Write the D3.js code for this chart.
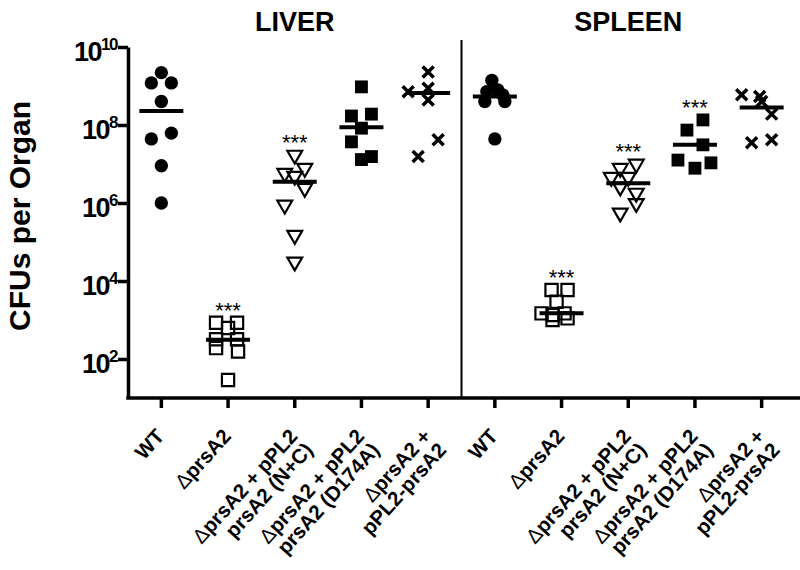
<!DOCTYPE html>
<html>
<head>
<meta charset="utf-8">
<script src="https://cdn.jsdelivr.net/npm/d3@7"></script>
<style>
  body { margin: 0; background: #fff; }
  svg { font-family: Arial, "Liberation Sans", sans-serif; display: block; }
</style>
</head>
<body>
<svg id="chart"></svg>
<script>
// groups and labels
var organs = ["LIVER", "SPLEEN"];
var strains = ["WT", "dprsA2", "NC", "D174A", "compl"];
var strainLabels = [
    ["WT"],
    ["\u0394prsA2"],
    ["\u0394prsA2 + pPL2", "prsA2 (N+C)"],
    ["\u0394prsA2 + pPL2", "prsA2 (D174A)"],
    ["\u0394prsA2 +", "pPL2-prsA2"]
];
var strainMarks = ["circle", "openSquare", "openTriangle", "square", "cross"];

// CFUs per organ
var liverCFU = [
    [2.2e9, 1.2e9, 1.2e9, 4.0e8, 4.4e7, 6.2e7, 9.0e6, 1.0e6],
    [850, 850, 620, 320, 320, 190, 155, 29],
    [1.7e7, 5.8e6, 7.8e6, 4.9e6, 2.4e6, 8.9e5, 1.5e5, 3.1e4],
    [9.5e8, 1.7e8, 1.9e8, 8.3e7, 3.7e7, 1.3e7, 1.55e7],
    [2.3e9, 8.7e8, 4.4e8, 7.1e8, 4.2e7, 1.55e7]
];
var liverJitter = [
    [0, -1, 1, 0, -1, 1, 0, 0],
    [-1.2, 0.9, 0, -1.2, 0.9, -1.2, 1, 0],
    [0, -1, 1, 0, 1, -1, 0, 0],
    [0, -1, 1, 0, -1, 0, 1],
    [0, 0, 0, -2, 1, -1]
];
var liverMedian = [2.3e8, 310, 3.5e6, 8.7e7, 6.6e8];
var liverSig = ["", "***", "***", "", ""];

var spleenCFU = [
    [1.4e9, 7.2e8, 7.9e8, 5.9e8, 4.0e8, 4.0e8, 4.4e7],
    [5900, 5900, 2950, 1480, 1350, 1480, 1000, 1100],
    [1.0e7, 7.8e6, 4.6e6, 4.6e6, 2.6e6, 1.8e6, 9.8e5, 5.6e5],
    [1.35e8, 7.4e7, 3.1e7, 1.26e7, 7.8e6, 1.07e7],
    [6.0e8, 5.4e8, 4.0e8, 1.9e8, 3.5e7, 4.2e7]
];
var spleenJitter = [
    [-0.3, -0.8, 0.3, 0.8, -1, 1, 0],
    [-1, 0.6, -0.5, -2, -0.9, 0.3, -0.9, 0.6],
    [0.8, -0.8, -1.7, 0, -0.8, 0.8, 0.8, -0.8],
    [0.8, -0.8, 0.8, -1.7, 0, 1.6],
    [-2, -0.2, 0, 1, -1, 1]
];
var spleenMedian = [5.4e8, 1480, 3.2e6, 3.1e7, 2.8e8];
var spleenSig = ["", "***", "***", "***", ""];

var yTicks = [1e2, 1e4, 1e6, 1e8, 1e10];

var organData = {
    LIVER: { cfu: liverCFU, jitter: liverJitter, median: liverMedian, sig: liverSig },
    SPLEEN: { cfu: spleenCFU, jitter: spleenJitter, median: spleenMedian, sig: spleenSig }
};

var svg = d3.select("#chart"),
    width = 800,
    height = 570,
    margin = { top: 47, right: 5, bottom: 172, left: 128 };

svg.attr("width", width).attr("height", height);

var keys = [];
organs.forEach(o => strains.forEach(s => keys.push(o + "|" + s)));

var x = d3.scaleBand().domain(keys).range([margin.left, width - margin.right]),
    y = d3.scaleLog().domain([10, 1e10]).range([height - margin.bottom, margin.top]);
var bw = x.bandwidth();
var jitterStep = 10;
var axisW = 3.5;

// y axis
var yAxis = svg.append("g")
    .attr("transform", "translate(" + margin.left + ",0)")
    .call(d3.axisLeft(y).tickValues(yTicks).tickSize(10).tickSizeOuter(0).tickFormat(""));
yAxis.select(".domain").attr("stroke-width", axisW);
yAxis.selectAll(".tick line").attr("stroke-width", axisW);
yAxis.selectAll(".tick").each(function (d) {
    var t = d3.select(this).append("text")
        .attr("x", -11)
        .attr("y", 13)
        .attr("text-anchor", "end")
        .attr("fill", "#000")
        .style("font-size", "27px")
        .style("font-weight", "bold")
        .style("letter-spacing", "-1.5px");
    t.append("tspan").text("10");
    t.append("tspan")
        .attr("dy", -11)
        .style("font-size", "17px")
        .text(Math.round(Math.log10(d)));
});

// x axis
var xAxis = svg.append("g")
    .attr("transform", "translate(0," + (height - margin.bottom) + ")")
    .call(d3.axisBottom(x).tickSize(10).tickSizeOuter(0).tickFormat(""));
xAxis.select(".domain").remove();
xAxis.selectAll(".tick line").attr("stroke-width", axisW);
xAxis.append("line")
    .attr("x1", margin.left - axisW / 2).attr("x2", width)
    .attr("y1", 0).attr("y2", 0)
    .attr("stroke", "#000").attr("stroke-width", axisW);

// rotated category labels
var labelAngle = -48;
keys.forEach(function (k) {
    var s = strains.indexOf(k.split("|")[1]);
    var lines = strainLabels[s];
    var g = svg.append("g")
        .attr("transform", "translate(" + (x(k) + bw / 2 + 4) + "," + (height - margin.bottom + 39) + ") rotate(" + labelAngle + ")");
    var t = g.append("text")
        .attr("text-anchor", "end")
        .style("font-size", "20.5px")
        .style("font-weight", "bold");
    lines.forEach(function (ln, i) {
        var ts = t.append("tspan").attr("x", 0).attr("dy", i === 0 ? 0 : "1.0em");
        if (ln.charAt(0) === "\u0394") {
            ts.style("font-weight", "normal").text("\u0394");
            t.append("tspan").text(ln.slice(1));
        } else {
            ts.text(ln);
        }
    });
});

// organ divider
var divX = x(organs[1] + "|" + strains[0]);
svg.append("line")
    .attr("x1", divX).attr("x2", divX)
    .attr("y1", 40).attr("y2", height - margin.bottom)
    .attr("stroke", "#000").attr("stroke-width", 2);

// organ titles
organs.forEach(function (o) {
    var cx = x(o + "|" + strains[2]) + bw / 2;
    svg.append("text")
        .attr("x", cx).attr("y", 31)
        .attr("text-anchor", "middle")
        .style("font-size", "27px")
        .style("font-weight", "bold")
        .text(o);
});

// y title
svg.append("text")
    .attr("transform", "translate(30,216) rotate(-90)")
    .attr("text-anchor", "middle")
    .style("font-size", "30px")
    .style("font-weight", "bold")
    .text("CFUs per Organ");

// markers
var sym = {
    circle: d3.symbol(d3.symbolCircle, 140)(),
    square: d3.symbol(d3.symbolSquare, 165)(),
    openSquare: d3.symbol(d3.symbolSquare, 150)(),
    openTriangle: d3.symbol(d3.symbolTriangle, 95)(),
    cross: "M-5.5,-5.5L5.5,5.5M-5.5,5.5L5.5,-5.5"
};

var pts = svg.append("g").attr("class", "points");
organs.forEach(function (o) {
    var od = organData[o];
    strains.forEach(function (s, i) {
        var cx = x(o + "|" + s) + bw / 2;
        var mark = strainMarks[i];
        var vals = od.cfu[i].map((v, j) => ({ v: v, j: od.jitter[i][j] }));

        pts.selectAll(".m-" + o + i)
            .data(vals)
            .enter()
            .append("path")
            .attr("class", "m-" + o + i)
            .attr("d", sym[mark])
            .attr("transform", function (d) {
                return "translate(" + (cx + d.j * jitterStep) + "," + y(d.v) + ")" +
                    (mark === "openTriangle" ? " rotate(180)" : "");
            })
            .attr("fill", (mark === "circle" || mark === "square") ? "#000" : "none")
            .attr("stroke", "#000")
            .attr("stroke-width", mark === "cross" ? 3.5 : (mark === "circle" || mark === "square") ? 0 : 2.2);

        // median line
        pts.append("line")
            .attr("x1", cx - 22).attr("x2", cx + 22)
            .attr("y1", y(od.median[i])).attr("y2", y(od.median[i]))
            .attr("stroke", "#000").attr("stroke-width", 4);

        if (od.sig[i]) {
            pts.append("text")
                .attr("x", cx).attr("y", y(d3.max(od.cfu[i])) - 5)
                .attr("text-anchor", "middle")
                .style("font-size", "22px")
                .text(od.sig[i]);
        }
    });
});
</script>
</body>
</html>
